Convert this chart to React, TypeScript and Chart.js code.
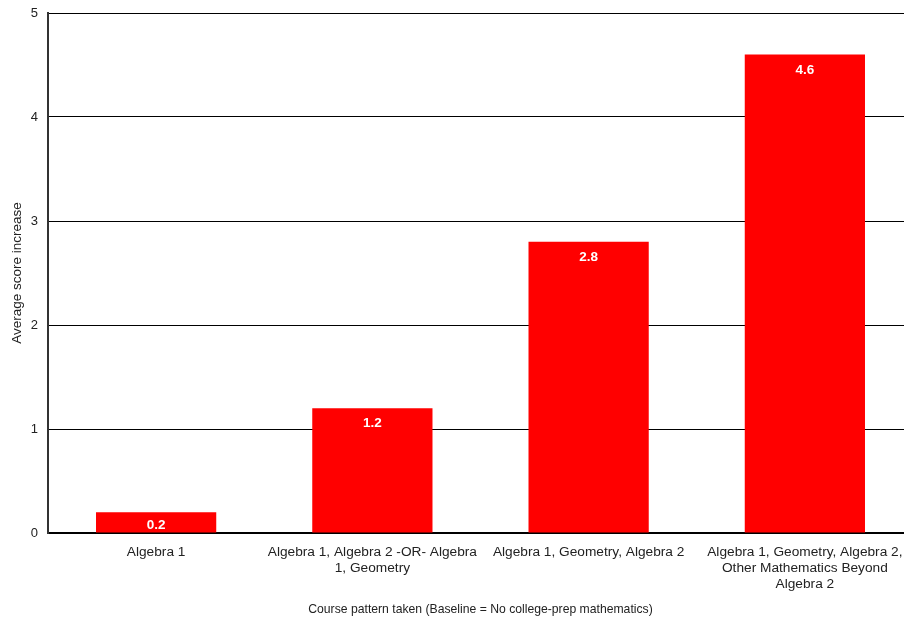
import React, { useEffect, useRef } from "react";
import { Chart, registerables } from "chart.js";

Chart.register(...registerables);

const categories: string[][] = [
  ["Algebra 1"],
  ["Algebra 1, Algebra 2 -OR- Algebra", "1, Geometry"],
  ["Algebra 1, Geometry, Algebra 2"],
  ["Algebra 1, Geometry, Algebra 2,", "Other Mathematics Beyond", "Algebra 2"],
];
const values: number[] = [0.2, 1.2, 2.8, 4.6];
const yTicks: number[] = [0, 1, 2, 3, 4, 5];
const xTitle = "Course pattern taken (Baseline = No college-prep mathematics)";
const yTitle = "Average score increase";

const FONT = "'Liberation Sans', Arial, sans-serif";

const valueLabels = {
  id: "valueLabels",
  afterDatasetsDraw(chart: any) {
    const ctx = chart.ctx;
    const meta = chart.getDatasetMeta(0);
    ctx.save();
    ctx.fillStyle = "#ffffff";
    ctx.font = `bold 13.5px ${FONT}`;
    ctx.textAlign = "center";
    ctx.textBaseline = "middle";
    meta.data.forEach((bar: any, i: number) => {
      const y = Math.min(bar.y + 15.5, bar.base - 7);
      ctx.fillText(values[i].toFixed(1), bar.x, y);
    });
    ctx.restore();
  },
};

export default function App() {
  const ref = useRef<HTMLCanvasElement>(null);
  useEffect(() => {
    if (!ref.current) return;
    const chart = new Chart(ref.current, {
      type: "bar",
      data: {
        labels: categories,
        datasets: [
          {
            data: values,
            backgroundColor: "#ff0000",
            borderWidth: 0,
            categoryPercentage: 1,
            barPercentage: 0.556,
          },
        ],
      },
      options: {
        animation: false,
        responsive: false,
        maintainAspectRatio: false,
        layout: { padding: { top: 13, right: 0, left: 0, bottom: 0 } },
        plugins: {
          legend: { display: false },
          tooltip: { enabled: false },
        },
        scales: {
          x: {
            afterFit: (scale: any) => {
              scale.height = 91;
              scale.paddingLeft = 0;
              scale.paddingRight = 0;
            },
            grid: { display: false, drawTicks: false },
            border: { color: "#000000", width: 1.5 },
            ticks: {
              color: "#222222",
              font: { family: FONT, size: 13.7, lineHeight: 1.17 },
              padding: 11,
              maxRotation: 0,
              autoSkip: false,
            },
            title: {
              display: true,
              text: xTitle,
              color: "#222222",
              font: { family: FONT, size: 12.2 },
              padding: { top: 0, bottom: 7 },
            },
          },
          y: {
            min: 0,
            max: 5,
            afterBuildTicks: (scale: any) => {
              scale.ticks = yTicks.map((v) => ({ value: v }));
            },
            afterFit: (scale: any) => {
              scale.width = 48;
              scale.paddingTop = 0;
              scale.paddingBottom = 0;
            },
            grid: { color: "#000000", lineWidth: 1, drawTicks: false },
            border: { color: "#333333", width: 2 },
            ticks: {
              color: "#222222",
              font: { family: FONT, size: 13 },
              padding: 10,
            },
            title: {
              display: true,
              text: yTitle,
              color: "#222222",
              font: { family: FONT, size: 13.5 },
              padding: { top: 9, bottom: 0 },
            },
          },
        },
      },
      plugins: [valueLabels],
    });
    return () => chart.destroy();
  }, []);
  return (
    <div
      style={{
        position: "fixed",
        left: 0,
        top: 0,
        width: 904,
        height: 624,
        overflow: "hidden",
        background: "#ffffff",
      }}
    >
      <canvas ref={ref} width={913} height={624} style={{ width: 913, height: 624, display: "block" }} />
    </div>
  );
}
